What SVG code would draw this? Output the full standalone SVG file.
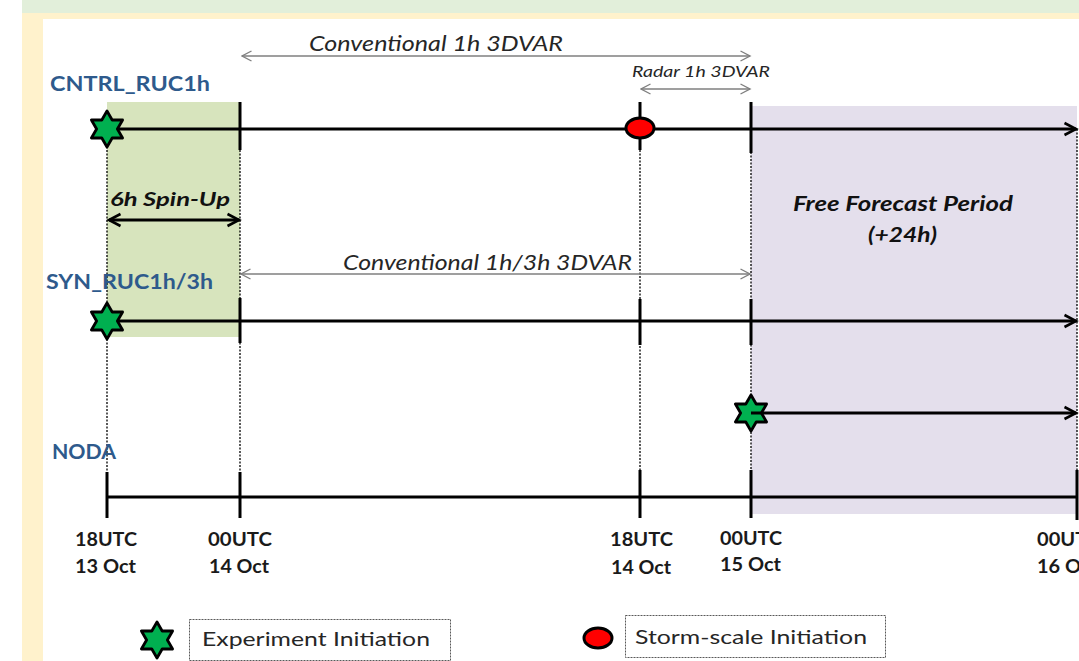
<svg xmlns="http://www.w3.org/2000/svg" xmlns:xlink="http://www.w3.org/1999/xlink" width="1079" height="661" viewBox="0 0 1079 661">
<style>
.lbl{font-family:Lato,"Liberation Sans",sans-serif;font-weight:bold;font-size:20px;fill:#2e5a8c}
.tm{font-family:Lato,"Liberation Sans",sans-serif;font-weight:bold;font-size:19.5px;fill:#1a1a1a}
.it{font-family:Lato,"Liberation Sans",sans-serif;font-style:italic;fill:#262626}
.bi{font-family:Lato,"Liberation Sans",sans-serif;font-style:italic;font-weight:bold;fill:#111}
.lg{font-family:Lato,"Liberation Sans",sans-serif;font-size:19px;fill:#262626}
.dot{stroke:#000;stroke-width:1.3;stroke-dasharray:2 1.5;fill:none}
.gar{stroke:#7f7f7f;stroke-width:1.3;fill:none;marker-start:url(#gh);marker-end:url(#gh)}
.bl{stroke:#000;stroke-width:3;fill:none}
.bar{stroke:#000;stroke-width:3;fill:none;marker-end:url(#bh)}
.box{fill:#fff;stroke:#595959;stroke-width:1;stroke-dasharray:2 1}
.star{fill:#00b050;stroke:#000;stroke-width:2.8;stroke-linejoin:round}
.red{fill:#ff0000;stroke:#000;stroke-width:3}
</style>
<defs>
<marker id="gh" viewBox="0 0 12 12" refX="10.5" refY="6" markerWidth="12" markerHeight="12" markerUnits="userSpaceOnUse" orient="auto-start-reverse"><path d="M1,1 L10.5,6 L1,11" fill="none" stroke="#7f7f7f" stroke-width="1.4"/></marker>
<marker id="bh" viewBox="0 0 16 16" refX="13" refY="8" markerWidth="16" markerHeight="16" markerUnits="userSpaceOnUse" orient="auto-start-reverse"><path d="M1.5,2 L13,8 L1.5,14" fill="none" stroke="#000" stroke-width="2.6"/></marker>
<path id="star" d="M0,-18 L5.2,-9 L15.59,-9 L10.39,0 L15.59,9 L5.2,9 L0,18 L-5.2,9 L-15.59,9 L-10.39,0 L-15.59,-9 L-5.2,-9 Z"/>
</defs>
<rect x="0" y="0" width="1079" height="661" fill="#fff"/>
<g id="frame">
<rect x="22" y="0" width="1057" height="13" fill="#e2efda"/>
<rect x="22" y="13" width="1057" height="6" fill="#fff2cc"/>
<rect x="22" y="13" width="21" height="648" fill="#fff2cc"/>
</g>
<g id="spinup-region"><rect x="107" y="102" width="133" height="235" fill="#d7e4bd"/></g>
<g id="forecast-region"><rect x="751" y="106" width="326" height="408" fill="#e4dfec"/></g>
<g id="connectors">
<line class="dot" x1="107" y1="129" x2="107" y2="472"/>
<line class="dot" x1="240" y1="150" x2="240" y2="472"/>
<line class="dot" x1="640" y1="150" x2="640" y2="470"/>
<line class="dot" x1="751" y1="152" x2="751" y2="470"/>
<line class="dot" x1="1077" y1="129" x2="1077" y2="470"/>
<line class="gar" x1="242" y1="56" x2="750" y2="56"/>
<line class="gar" x1="641" y1="89" x2="750" y2="89"/>
<line class="gar" x1="241" y1="274" x2="750" y2="274"/>
<line class="bar" x1="107" y1="129" x2="1076" y2="129"/>
<line class="bl" x1="240" y1="102" x2="240" y2="150"/>
<line class="bl" x1="640" y1="102" x2="640" y2="150"/>
<line class="bl" x1="751" y1="102" x2="751" y2="153"/>
<line class="bar" x1="107" y1="321" x2="1076" y2="321"/>
<line class="bl" x1="240" y1="298" x2="240" y2="343"/>
<line class="bl" x1="640" y1="299" x2="640" y2="345"/>
<line class="bl" x1="751" y1="299" x2="751" y2="345"/>
<line class="bl" x1="107" y1="497" x2="1077" y2="497"/>
<line class="bl" x1="107" y1="472" x2="107" y2="518"/>
<line class="bl" x1="240" y1="472" x2="240" y2="518"/>
<line class="bl" x1="640" y1="470" x2="640" y2="518"/>
<line class="bl" x1="751" y1="470" x2="751" y2="518"/>
<line class="bl" x1="1077" y1="470" x2="1077" y2="520"/>
<line class="bar" x1="109" y1="220" x2="239" y2="220" style="marker-start:url(#bh)"/>
</g>
<g id="cntrl-start"><use xlink:href="#star" class="star" transform="translate(107,129)"/></g>
<g id="syn-start"><use xlink:href="#star" class="star" transform="translate(107,321)"/></g>
<g id="noda-start"><use xlink:href="#star" class="star" transform="translate(751,413)"/>
<line class="bar" x1="751" y1="413" x2="1076" y2="413"/></g>
<g id="storm-init"><ellipse class="red" cx="640" cy="128" rx="14" ry="10"/></g>
<g id="labels">
<text class="lbl" x="50" y="91" textLength="160" lengthAdjust="spacingAndGlyphs">CNTRL_RUC1h</text>
<text class="lbl" x="46" y="289" textLength="167" lengthAdjust="spacingAndGlyphs">SYN_RUC1h/3h</text>
<text class="lbl" x="52" y="459" textLength="64" lengthAdjust="spacingAndGlyphs">NODA</text>
<text class="it" x="309" y="51" font-size="21" textLength="254" lengthAdjust="spacingAndGlyphs">Conventional 1h 3DVAR</text>
<text class="it" x="632" y="77" font-size="16" textLength="138" lengthAdjust="spacingAndGlyphs">Radar 1h 3DVAR</text>
<text class="it" x="343" y="270" font-size="21" textLength="289" lengthAdjust="spacingAndGlyphs">Conventional 1h/3h 3DVAR</text>
<text class="bi" x="110" y="206" font-size="19" textLength="120" lengthAdjust="spacingAndGlyphs">6h Spin-Up</text>
<text class="bi" x="793" y="211" font-size="20.5" textLength="220" lengthAdjust="spacingAndGlyphs">Free Forecast Period</text>
<text class="bi" x="868" y="242" font-size="20.5" textLength="69" lengthAdjust="spacingAndGlyphs">(+24h)</text>
</g>
<g id="time-labels">
<text class="tm" x="75" y="546" textLength="62" lengthAdjust="spacingAndGlyphs">18UTC</text>
<text class="tm" x="75" y="573" textLength="61" lengthAdjust="spacingAndGlyphs">13 Oct</text>
<text class="tm" x="208" y="546" textLength="64" lengthAdjust="spacingAndGlyphs">00UTC</text>
<text class="tm" x="209" y="573" textLength="60" lengthAdjust="spacingAndGlyphs">14 Oct</text>
<text class="tm" x="610" y="546" textLength="63" lengthAdjust="spacingAndGlyphs">18UTC</text>
<text class="tm" x="611" y="574" textLength="60" lengthAdjust="spacingAndGlyphs">14 Oct</text>
<text class="tm" x="720" y="545" textLength="62" lengthAdjust="spacingAndGlyphs">00UTC</text>
<text class="tm" x="720" y="571" textLength="61" lengthAdjust="spacingAndGlyphs">15 Oct</text>
<text class="tm" x="1037" y="546" textLength="63" lengthAdjust="spacingAndGlyphs">00UTC</text>
<text class="tm" x="1037" y="573" textLength="61" lengthAdjust="spacingAndGlyphs">16 Oct</text>
</g>
<g id="legend-experiment">
<use xlink:href="#star" class="star" transform="translate(157,640)"/>
<rect class="box" x="189.5" y="619.5" width="261" height="41"/>
<text class="lg" x="202" y="646" textLength="228" lengthAdjust="spacingAndGlyphs">Experiment Initiation</text>
</g>
<g id="legend-storm">
<ellipse class="red" cx="598" cy="638" rx="14" ry="10"/>
<rect class="box" x="625.5" y="615.5" width="260" height="42"/>
<text class="lg" x="635" y="644" textLength="232" lengthAdjust="spacingAndGlyphs">Storm-scale Initiation</text>
</g>
</svg>
